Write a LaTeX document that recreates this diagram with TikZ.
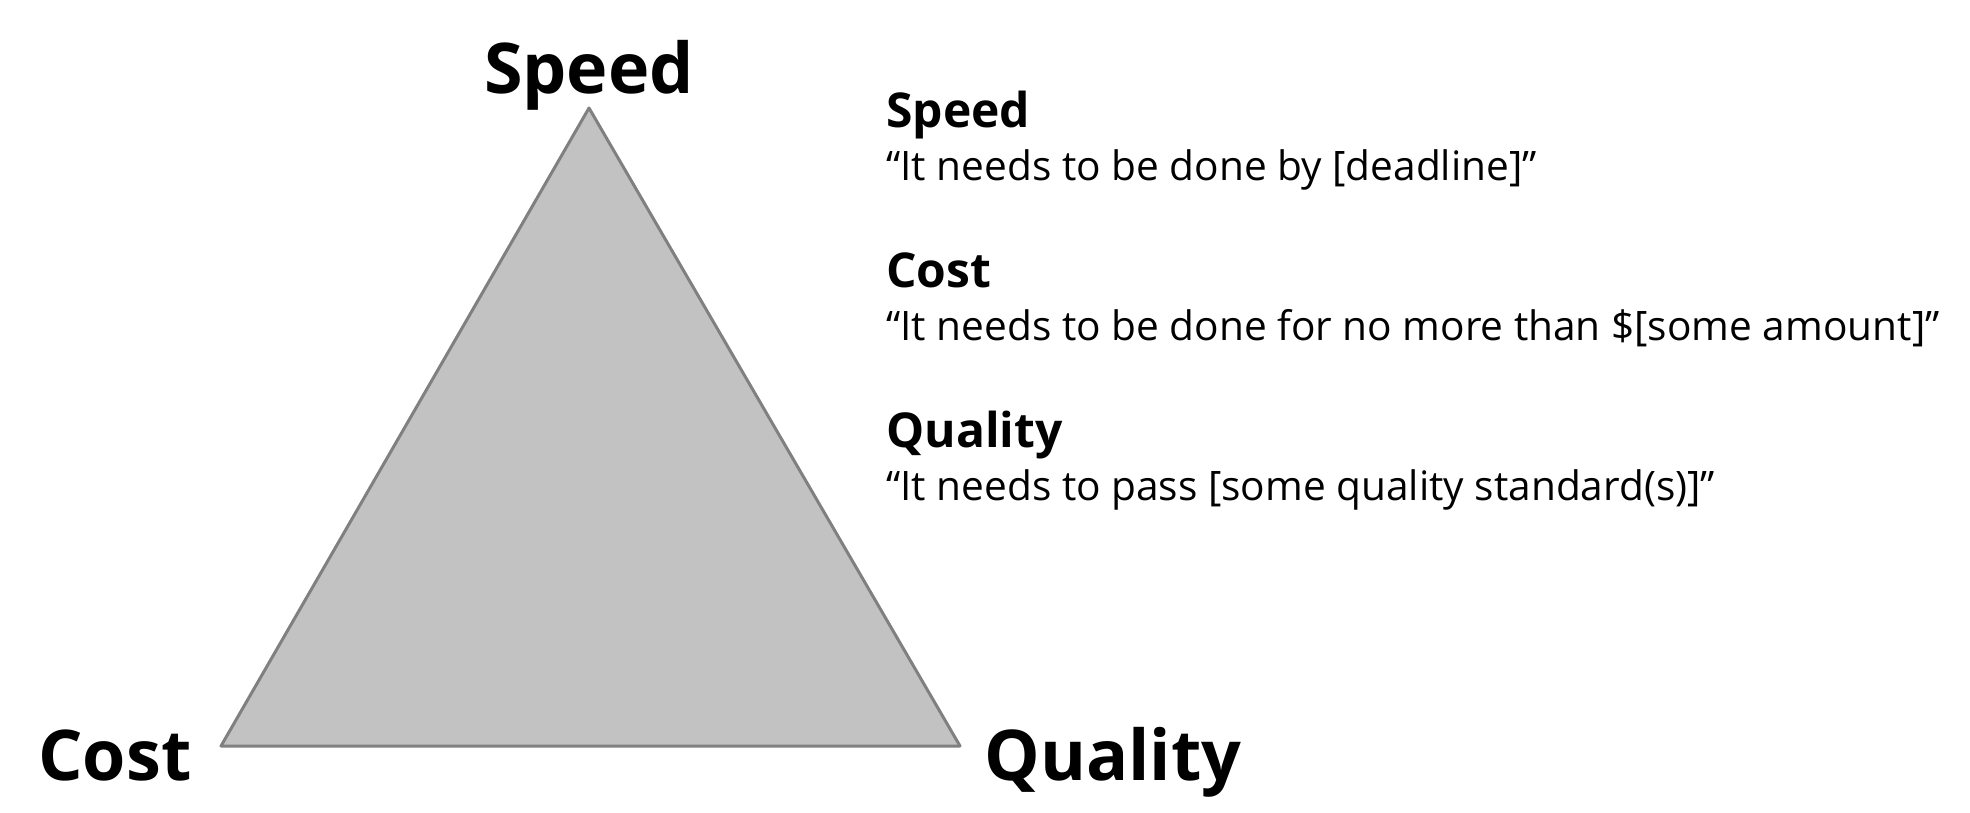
\documentclass[tikz,border=0pt]{standalone}
\usepackage{fontspec}
\setmainfont{Open Sans}
\begin{document}
\begin{tikzpicture}[x=0.5pt,y=-0.5pt,
  big/.style={font=\fontsize{35}{40}\selectfont\bfseries,inner sep=0pt},
  head/.style={font=\fontsize{24}{28}\selectfont\bfseries,inner sep=0pt,anchor=base west},
  body/.style={font=\fontsize{20.3}{24}\selectfont,inner sep=0pt,anchor=base west}]
\useasboundingbox (0,0) rectangle (1970,813);
\coordinate (top) at (589,108);
\coordinate (bl) at (221,746);
\coordinate (br) at (960,746);
\draw[draw=black!50,fill=black!24,line width=1.5pt,line join=round] (top) -- (bl) -- (br) -- cycle;
\node[big,anchor=base] (lspeed) at (589,94) {Speed};
\node[big,anchor=base west] (lcost) at (38,780) {Cost};
\node[big,anchor=base west] (lquality) at (984,780) {Quality};
\node[head] (hs) at (886,127) {Speed};
\node[body] (bs) at (886,180) {“It needs to be done by [deadline]”};
\node[head] (hc) at (886,287) {Cost};
\node[body] (bc) at (886,340) {“It needs to be done for no more than \$[some amount]”};
\node[head] (hq) at (886,447) {Quality};
\node[body] (bq) at (886,500) {“It needs to pass [some quality standard(s)]”};
\end{tikzpicture}
\end{document}
